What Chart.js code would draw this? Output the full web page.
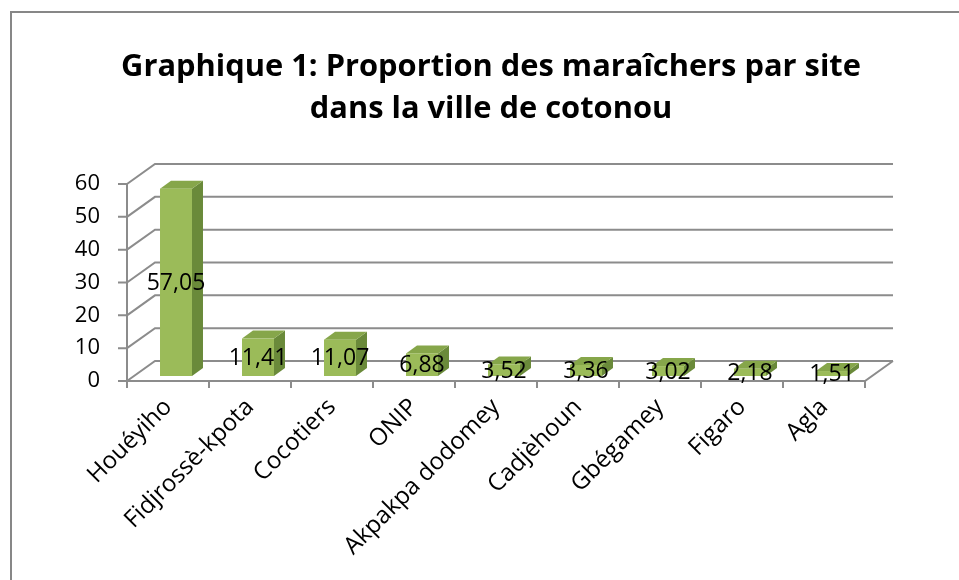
<!DOCTYPE html>
<html><head><meta charset="utf-8">
<script src="https://cdn.jsdelivr.net/npm/chart.js@4"></script>
<style>html,body{margin:0;padding:0;background:#fff}canvas{display:block}</style>
</head><body>
<canvas id="c" width="959" height="580"></canvas>
<script>
const categories = ["Houéyiho","Fidjrossè-kpota","Cocotiers","ONIP","Akpakpa dodomey","Cadjèhoun","Gbégamey","Figaro","Agla"];
const values = [57.05,11.41,11.07,6.88,3.52,3.36,3.02,2.18,1.51];
const yTicks = [0,10,20,30,40,50,60];
const titleLines = ["Graphique 1: Proportion des maraîchers par site","dans la ville de cotonou"];

const FONT = '"Open Sans", sans-serif';
const DX = 28, DY = 20;   // back wall offset
const BX = 8, BY = 5;     // bar front face offset
const PX = 11, PY = 8;    // bar depth
const GRID = '#8c8c8c';
const C_FRONT = '#9bbb59', C_TOP = '#86a64a', C_SIDE = '#6a8a3a';

const deco = {
  id: 'deco',
  beforeDraw(chart) {
    const ctx = chart.ctx;
    ctx.save();
    ctx.fillStyle = '#fff';
    ctx.fillRect(0, 0, chart.width, chart.height);
    ctx.strokeStyle = '#878787';
    ctx.lineWidth = 2;
    ctx.strokeRect(11, 12, chart.width + 20, chart.height + 20);
    ctx.fillStyle = '#000';
    ctx.textAlign = 'center';
    ctx.textBaseline = 'middle';
    let size = 30;
    ctx.font = `bold ${size}px ${FONT}`;
    const w = ctx.measureText(titleLines[0]).width;
    size = size * 740 / w;
    ctx.font = `bold ${size}px ${FONT}`;
    ctx.fillText(titleLines[0], 491, 67);
    ctx.fillText(titleLines[1], 491, 109);
    ctx.restore();
  },
  beforeDatasetsDraw(chart) {
    const {ctx, chartArea: a, scales: {x, y}} = chart;
    ctx.save();
    ctx.strokeStyle = GRID;
    ctx.lineWidth = 2;
    ctx.beginPath();
    yTicks.forEach(v => {
      const py = y.getPixelForValue(v);
      ctx.moveTo(a.left, py);
      ctx.lineTo(a.left + DX, py - DY);
      ctx.lineTo(a.right + DX, py - DY);
      ctx.moveTo(a.left - 9, py);
      ctx.lineTo(a.left, py);
    });
    ctx.moveTo(a.left, a.top);
    ctx.lineTo(a.left, a.bottom);
    ctx.moveTo(a.left, a.bottom);
    ctx.lineTo(a.right, a.bottom);
    ctx.lineTo(a.right + DX, a.bottom - DY);
    const cw = (a.right - a.left) / categories.length;
    for (let i = 0; i <= categories.length; i++) {
      const px = x.getPixelForValue(0) - cw / 2 + i * cw;
      ctx.moveTo(px, a.bottom);
      ctx.lineTo(px, a.bottom + 7);
    }
    ctx.stroke();
    ctx.restore();
  },
  afterDatasetsDraw(chart) {
    const ctx = chart.ctx;
    const meta = chart.getDatasetMeta(0);
    ctx.save();
    const boxes = [];
    meta.data.forEach((el, i) => {
      const p = el.getProps(['x', 'y', 'base', 'width'], true);
      const xl = p.x - p.width / 2 + BX, xr = p.x + p.width / 2 + BX;
      const yt = p.y - BY, yb = p.base - BY;
      boxes.push({xl, xr, yt, yb});
      ctx.fillStyle = C_SIDE;
      ctx.beginPath();
      ctx.moveTo(xr, yt); ctx.lineTo(xr + PX, yt - PY); ctx.lineTo(xr + PX, yb - PY); ctx.lineTo(xr, yb);
      ctx.closePath(); ctx.fill();
      ctx.fillStyle = C_TOP;
      ctx.beginPath();
      ctx.moveTo(xl, yt); ctx.lineTo(xl + PX, yt - PY); ctx.lineTo(xr + PX, yt - PY); ctx.lineTo(xr, yt);
      ctx.closePath(); ctx.fill();
      ctx.fillStyle = C_FRONT;
      ctx.fillRect(xl, yt, xr - xl, yb - yt);
    });
    ctx.fillStyle = '#000';
    ctx.font = `23px ${FONT}`;
    ctx.textAlign = 'center';
    ctx.textBaseline = 'middle';
    boxes.forEach((b, i) => {
      ctx.fillText(values[i].toFixed(2).replace('.', ','), (b.xl + b.xr) / 2, (b.yt + b.yb) / 2 + 1);
    });
    ctx.restore();
  }
};

new Chart(document.getElementById('c'), {
  type: 'bar',
  data: {
    labels: categories,
    datasets: [{
      data: values,
      backgroundColor: 'rgba(0,0,0,0)',
      borderWidth: 0,
      categoryPercentage: 1,
      barPercentage: 0.39
    }]
  },
  options: {
    responsive: false,
    animation: false,
    layout: {padding: {top: 184, right: 94, left: 0, bottom: 0}},
    plugins: {legend: {display: false}, tooltip: {enabled: false}, title: {display: false}},
    scales: {
      x: {
        grid: {display: false, drawTicks: false},
        border: {display: false},
        ticks: {color: '#000', font: {family: FONT, size: 24}, minRotation: 45, maxRotation: 45, autoSkip: false, padding: 12, labelOffset: 0},
        afterFit(s) { s.height = 199; }
      },
      y: {
        min: 0, max: 60,
        grid: {display: false, drawTicks: false},
        border: {display: false},
        ticks: {color: '#000', font: {family: FONT, size: 22}, stepSize: 10, padding: 27},
        afterFit(s) { s.width = 127; }
      }
    }
  },
  plugins: [deco]
});
</script>
</body></html>
